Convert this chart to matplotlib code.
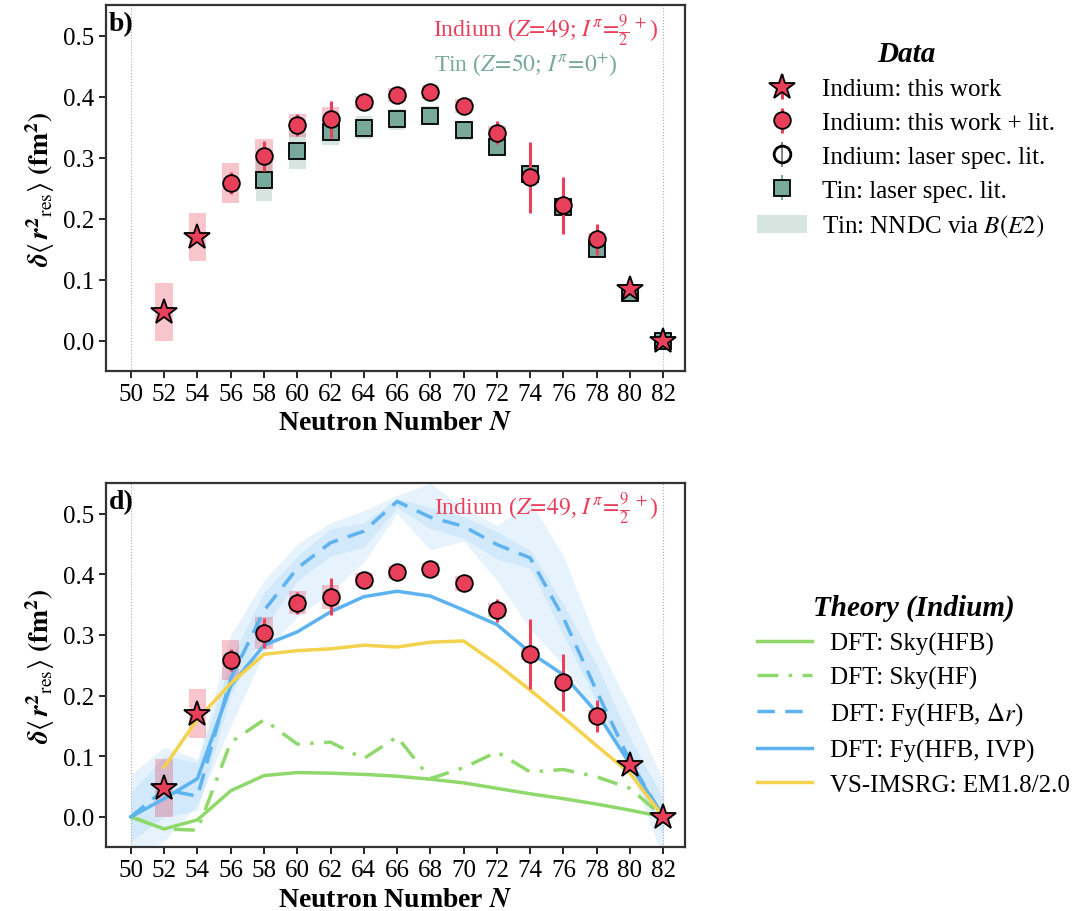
import numpy as np
import matplotlib
matplotlib.use('Agg')
from matplotlib import pyplot as plt
from matplotlib.patches import Patch

plt.rcParams['font.family'] = ['Liberation Serif', 'DejaVu Serif']
plt.rcParams['mathtext.fontset'] = 'stix'
plt.rcParams['font.size'] = 18

# indium, this work only
in_star_N = [52, 54, 80, 82]
in_star_val = [0.047, 0.170, 0.085, 0.0]
in_star_err = [0.004, 0.006, 0.006, 0.002]
in_star_band = [0.048, 0.040, 0.006, 0.004]

# indium, this work + literature
in_N = [56, 58, 60, 62, 64, 66, 68, 70, 72, 74, 76, 78]
in_val = [0.258, 0.303, 0.353, 0.363, 0.391, 0.403, 0.408, 0.385, 0.341, 0.268, 0.222, 0.166]
in_err = [0.018, 0.025, 0.018, 0.030, 0.004, 0.004, 0.004, 0.004, 0.019, 0.058, 0.047, 0.026]
in_band = [0.033, 0.027, 0.019, 0.020, 0.011, 0.011, 0.011, 0.012, 0.011, 0.010, 0.010, 0.010]

# tin, laser spectroscopy literature + NNDC B(E2) band
sn_N = [58, 60, 62, 64, 66, 68, 70, 72, 74, 76, 78, 80, 82]
sn_val = [0.263, 0.311, 0.342, 0.349, 0.363, 0.369, 0.345, 0.317, 0.273, 0.220, 0.150, 0.078, 0.0]
sn_err = [0.004, 0.004, 0.004, 0.004, 0.004, 0.004, 0.004, 0.004, 0.004, 0.004, 0.010, 0.004, 0.002]
sn_band = [0.034, 0.029, 0.021, 0.019, 0.017, 0.016, 0.016, 0.013, 0.012, 0.010, 0.012, 0.009, 0.005]

# theory curves for indium
th_N = [50, 52, 54, 56, 58, 60, 62, 64, 66, 68, 70, 72, 74, 76, 78, 80, 82]
sky_hfb = [0.0, -0.020, -0.005, 0.043, 0.068, 0.073, 0.072, 0.070, 0.067, 0.062, 0.056, 0.047, 0.038, 0.030, 0.021, 0.011, 0.0]
sky_hf = [0.0, -0.020, -0.022, 0.123, 0.160, 0.120, 0.123, 0.096, 0.132, 0.063, 0.081, 0.107, 0.074, 0.078, 0.066, 0.047, 0.0]
fy_dr = [0.0, 0.045, 0.034, 0.228, 0.340, 0.410, 0.452, 0.471, 0.520, 0.494, 0.479, 0.449, 0.427, 0.328, 0.207, 0.092, 0.0]
fy_ivp = [0.0, 0.030, 0.063, 0.216, 0.283, 0.305, 0.338, 0.363, 0.372, 0.364, 0.341, 0.317, 0.271, 0.234, 0.172, 0.087, 0.0]
imsrg_N = [52, 54, 56, 58, 60, 62, 64, 66, 68, 70, 72, 74, 76, 78, 80, 82]
imsrg = [0.082, 0.161, 0.220, 0.268, 0.274, 0.277, 0.283, 0.280, 0.288, 0.290, 0.252, 0.209, 0.164, 0.117, 0.072, 0.0]

# Fy uncertainty bands (inner / outer)
fy_in_lo = [-0.04, 0.00, 0.01, 0.20, 0.31, 0.39, 0.43, 0.445, 0.51, 0.475, 0.46, 0.425, 0.41, 0.30, 0.19, 0.08, -0.03]
fy_in_hi = [0.04, 0.10, 0.09, 0.26, 0.37, 0.43, 0.475, 0.485, 0.525, 0.51, 0.495, 0.47, 0.44, 0.35, 0.25, 0.13, 0.03]
fy_out_lo = [-0.07, -0.04, 0.02, 0.15, 0.27, 0.33, 0.37, 0.42, 0.50, 0.44, 0.455, 0.39, 0.31, 0.25, 0.17, 0.08, -0.07]
fy_out_hi = [0.07, 0.115, 0.095, 0.30, 0.39, 0.45, 0.485, 0.505, 0.53, 0.55, 0.51, 0.48, 0.52, 0.43, 0.29, 0.18, 0.06]

xticks = list(range(50, 84, 2))

c_in = '#e8405a'
c_sn = '#78a99b'
c_sky = '#8fd96c'
c_fy = '#5db2f0'
c_ims = '#f5d24e'


def draw_indium(ax, with_labels=True):
    ax.bar(in_star_N, 2 * np.array(in_star_band), bottom=np.array(in_star_val) - np.array(in_star_band),
           width=1.05, color=c_in, alpha=0.3, lw=0, zorder=3)
    ax.bar(in_N, 2 * np.array(in_band), bottom=np.array(in_val) - np.array(in_band),
           width=1.05, color=c_in, alpha=0.3, lw=0, zorder=3)
    ax.errorbar(in_N, in_val, yerr=in_err, fmt='o', ms=12, mfc=c_in, mec='k', mew=1.3,
                ecolor=c_in, elinewidth=2.2, capsize=0, zorder=6,
                label='Indium: this work + lit.' if with_labels else None)
    ax.errorbar(in_star_N, in_star_val, yerr=in_star_err, fmt='*', ms=19, mfc=c_in, mec='k', mew=1.3,
                ecolor=c_in, elinewidth=2.2, capsize=0, zorder=7,
                label='Indium: this work' if with_labels else None)


def style_axis(ax, panel):
    ax.set_xlim(48.5, 83.3)
    ax.set_ylim(-0.05, 0.55)
    ax.set_xticks(xticks)
    ax.set_yticks([0.0, 0.1, 0.2, 0.3, 0.4, 0.5])
    ax.tick_params(labelsize=18, width=1.2, length=5)
    for s in ax.spines.values():
        s.set_linewidth(1.6)
        s.set_color('#333333')
    for n in (50, 82):
        ax.axvline(n, color='#aaaaaa', lw=0.8, ls=':', zorder=1)
    ax.set_xlabel(r'Neutron Number $\mathbfit{N}$', fontsize=20, fontweight='bold')
    ax.set_ylabel(r'$\mathbfit{\delta}\langle\,\mathbfit{r}^{\mathbf{2}}{}_{\mathrm{res}}\rangle$ $\mathbf{(fm^{2})}$',
                  fontsize=20)
    ax.text(0.005, 0.985, panel, transform=ax.transAxes, fontsize=20, fontweight='bold',
            ha='left', va='top')


fig = plt.figure(figsize=(10.76, 9.12), dpi=100)
ax1 = fig.add_axes([0.0985, 0.592, 0.538, 0.401])
ax2 = fig.add_axes([0.0985, 0.070, 0.538, 0.399])

# panel b: data
ax1.bar(sn_N, 2 * np.array(sn_band), bottom=np.array(sn_val) - np.array(sn_band),
        width=1.0, color=c_sn, alpha=0.3, lw=0, zorder=2)
sn_h = ax1.errorbar(sn_N, sn_val, yerr=sn_err, fmt='s', ms=11, mfc=c_sn, mec='k', mew=1.3,
                    ecolor=c_sn, elinewidth=1.5, capsize=0, zorder=5)
draw_indium(ax1)
lit_h = ax1.errorbar([np.nan], [np.nan], yerr=[0.01], fmt='o', ms=12, mfc='none', mec='k', mew=2,
                     ecolor='#888888', elinewidth=1.5, capsize=0)
style_axis(ax1, 'b)')
ax1.text(0.955, 0.985, r'Indium ($Z\!=\!49$; $I^{\pi}\!=\!\frac{9}{2}^{\,+}$)', transform=ax1.transAxes,
         color=c_in, fontsize=17, ha='right', va='top')
ax1.text(0.885, 0.875, r'Tin ($Z\!=\!50$; $I^{\pi}\!=\!0^{+}$)', transform=ax1.transAxes,
         color=c_sn, fontsize=17, ha='right', va='top')

h, l = ax1.get_legend_handles_labels()
handles = [h[l.index('Indium: this work')], h[l.index('Indium: this work + lit.')], lit_h, sn_h,
           Patch(facecolor=c_sn, alpha=0.3, lw=0)]
labels = ['Indium: this work', 'Indium: this work + lit.', 'Indium: laser spec. lit.',
          'Tin: laser spec. lit.', r'Tin: NNDC via $B(E2)$']
fig.legend(handles, labels, loc='upper left', bbox_to_anchor=(0.683, 0.980), frameon=False,
           fontsize=18, title='Data', title_fontproperties={'weight': 'bold', 'style': 'italic', 'size': 21},
           handlelength=2.0, labelspacing=0.45, handletextpad=0.6)

# panel d: theory
ax2.fill_between(th_N, fy_out_lo, fy_out_hi, color=c_fy, alpha=0.15, lw=0, zorder=1)
ax2.fill_between(th_N, fy_in_lo, fy_in_hi, color=c_fy, alpha=0.15, lw=0, zorder=1)
ax2.plot(th_N, sky_hfb, color=c_sky, lw=2.5, label='DFT: Sky(HFB)', zorder=4)
ax2.plot(th_N, sky_hf, color=c_sky, lw=2.5, ls=(0, (6, 3, 1, 3)), label='DFT: Sky(HF)', zorder=4)
ax2.plot(th_N, fy_dr, color=c_fy, lw=2.5, ls=(0, (5, 3)), label=r'DFT: Fy(HFB, $\Delta r$)', zorder=4)
ax2.plot(th_N, fy_ivp, color=c_fy, lw=2.5, label='DFT: Fy(HFB, IVP)', zorder=4)
ax2.plot(imsrg_N, imsrg, color=c_ims, lw=2.5, label='VS-IMSRG: EM1.8/2.0', zorder=4)
draw_indium(ax2, with_labels=False)
style_axis(ax2, 'd)')
ax2.text(0.955, 0.985, r'Indium ($Z\!=\!49$, $I^{\pi}\!=\!\frac{9}{2}^{\,+}$)', transform=ax2.transAxes,
         color=c_in, fontsize=17, ha='right', va='top')
fig.legend(*ax2.get_legend_handles_labels(), loc='upper left', bbox_to_anchor=(0.683, 0.373),
           frameon=False, fontsize=18, title='Theory (Indium)',
           title_fontproperties={'weight': 'bold', 'style': 'italic', 'size': 21},
           handlelength=2.2, labelspacing=0.45, handletextpad=0.7)

fig.savefig('out.png', dpi=100)
